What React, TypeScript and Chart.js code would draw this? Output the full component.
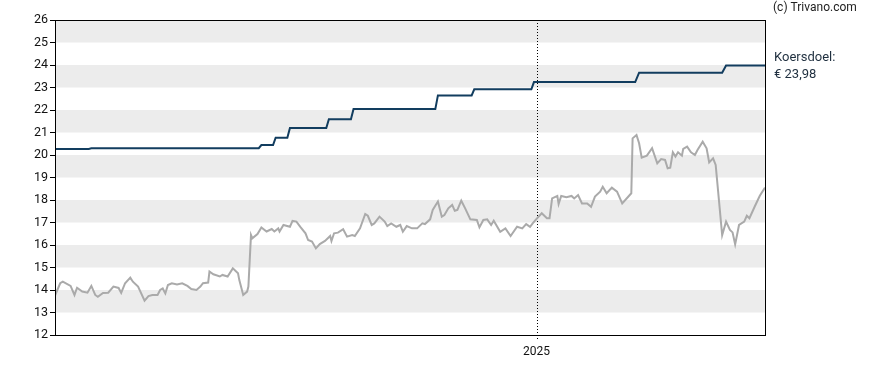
import React, { useEffect, useRef } from "react";
import { Chart, registerables } from "chart.js";

Chart.register(...registerables);

// x values are day offsets from the start of the chart
const xMin = 0;
const xMax = 547;
const yearTickDay = 371;
const yearTickLabel = "2025";
const yTicksMin = 12;
const yTicksMax = 26;

const targetDays = [0, 26, 28, 157, 159, 168, 170, 179, 181, 209, 211, 228, 230, 293, 295, 321, 323, 367, 369, 447, 450, 514, 517, 547];
const targetValues = [20.27, 20.27, 20.3, 20.3, 20.44, 20.44, 20.77, 20.77, 21.2, 21.2, 21.59, 21.59, 22.04, 22.04, 22.65, 22.65, 22.92, 22.92, 23.24, 23.24, 23.66, 23.66, 23.98, 23.98];

const priceDays = [
  0, 4, 6, 12, 15, 17, 21, 25, 28, 31, 33, 37, 41, 45, 49, 51, 54, 58, 60, 64,
  69, 72, 75, 79, 81, 83, 85, 87, 90, 94, 98, 102, 105, 109, 112, 114, 118, 119, 122, 127,
  129, 133, 137, 141, 142, 145, 148, 149, 151, 152, 156, 159, 163, 167, 169, 172, 173, 176, 181, 183,
  186, 189, 193, 195, 198, 201, 204, 208, 212, 213, 215, 218, 222, 225, 229, 231, 235, 239, 241, 244,
  246, 250, 254, 256, 259, 263, 266, 268, 271, 275, 279, 283, 285, 289, 291, 295, 298, 300, 303, 306,
  308, 310, 313, 316, 320, 325, 327, 330, 333, 336, 338, 343, 347, 351, 356, 360, 363, 366, 368, 371,
  375, 379, 381, 383, 387, 388, 390, 394, 398, 400, 403, 406, 410, 413, 416, 420, 422, 425, 429, 433,
  437, 444, 445, 448, 450, 452, 456, 460, 464, 467, 470, 472, 474, 476, 478, 480, 483, 484, 487, 490,
  493, 495, 499, 502, 504, 507, 509, 514, 517, 520, 522, 524, 527, 531, 533, 535, 539, 543, 547,
];
const priceValues = [
  13.75, 14.3, 14.37, 14.18, 13.78, 14.1, 13.93, 13.88, 14.18, 13.78, 13.7, 13.87, 13.88, 14.15, 14.09, 13.87, 14.3, 14.55, 14.37, 14.15,
  13.53, 13.73, 13.78, 13.78, 14.0, 14.07, 13.85, 14.22, 14.3, 14.25, 14.3, 14.18, 14.04, 14.0, 14.15, 14.3, 14.33, 14.82, 14.7, 14.6,
  14.67, 14.6, 14.96, 14.74, 14.44, 13.78, 13.93, 14.15, 16.44, 16.3, 16.49, 16.78, 16.6, 16.71, 16.6, 16.74, 16.6, 16.89, 16.81, 17.07,
  17.04, 16.81, 16.52, 16.22, 16.15, 15.85, 16.04, 16.18, 16.4, 16.18, 16.52, 16.55, 16.7, 16.37, 16.44, 16.4, 16.74, 17.38, 17.3, 16.89,
  16.96, 17.26, 17.04, 16.84, 16.96, 16.81, 16.89, 16.59, 16.84, 16.74, 16.74, 16.96, 16.93, 17.14, 17.56, 17.93, 17.26, 17.33, 17.63, 17.78,
  17.52, 17.56, 17.97, 17.63, 17.14, 17.11, 16.79, 17.11, 17.14, 16.89, 17.08, 16.59, 16.74, 16.4, 16.81, 16.74, 16.93, 16.81, 16.96, 17.16,
  17.41, 17.19, 17.19, 18.07, 18.18, 17.82, 18.18, 18.12, 18.18, 18.07, 18.22, 17.85, 17.85, 17.7, 18.15, 18.37, 18.59, 18.3, 18.55, 18.37,
  17.85, 18.3, 20.74, 20.89, 20.52, 19.88, 19.97, 20.3, 19.63, 19.82, 19.78, 19.41, 19.44, 20.12, 19.93, 20.12, 19.97, 20.27, 20.37, 20.12,
  20.0, 20.22, 20.59, 20.3, 19.67, 19.85, 19.56, 16.44, 17.04, 16.67, 16.56, 16.03, 16.89, 17.04, 17.3, 17.19, 17.7, 18.19, 18.55,
];

const targetLabel = "Koersdoel:";
const targetValueText = "€ 23,98";
const copyright = "(c) Trivano.com";

const FONT = "Roboto, 'DejaVu Sans', sans-serif";

const decorPlugin = {
  id: "decor",
  beforeDatasetsDraw(chart: any) {
    const { ctx, chartArea, scales } = chart;
    const y = scales.y;
    const x = scales.x;
    ctx.save();
    ctx.fillStyle = "#ececec";
    for (let v = yTicksMin + 1; v < yTicksMax; v += 2) {
      const top = y.getPixelForValue(v + 1);
      const bot = y.getPixelForValue(v);
      ctx.fillRect(chartArea.left, top, chartArea.right - chartArea.left, bot - top);
    }
    const px = Math.round(x.getPixelForValue(yearTickDay)) + 0.5;
    ctx.strokeStyle = "#000";
    ctx.lineWidth = 1;
    ctx.setLineDash([1, 2]);
    ctx.beginPath();
    ctx.moveTo(px, chartArea.top);
    ctx.lineTo(px, chartArea.bottom + 5);
    ctx.stroke();
    ctx.restore();
  },
  afterDatasetsDraw(chart: any) {
    const { ctx, chartArea, scales } = chart;
    ctx.save();
    ctx.strokeStyle = "#000";
    ctx.lineWidth = 1;
    ctx.setLineDash([]);
    const l = Math.round(chartArea.left) + 0.5;
    const t = Math.round(chartArea.top) + 0.5;
    const r = Math.round(chartArea.right) + 0.5;
    const b = Math.round(chartArea.bottom) + 0.5;
    ctx.strokeRect(l, t, r - l, b - t);

    ctx.font = `12px ${FONT}`;
    ctx.fillStyle = "#222";
    ctx.textBaseline = "middle";
    ctx.textAlign = "left";
    ctx.fillText(copyright, chartArea.right + 8, 8);

    const last = targetValues[targetValues.length - 1];
    const ly = scales.y.getPixelForValue(last);
    ctx.font = `13px ${FONT}`;
    ctx.fillStyle = "#1f2f3f";
    ctx.fillText(targetLabel, chartArea.right + 9, ly - 8);
    ctx.fillText(targetValueText, chartArea.right + 9, ly + 9);
    ctx.restore();
  },
};

export default function App() {
  const ref = useRef<HTMLCanvasElement>(null);
  useEffect(() => {
    if (!ref.current) return;
    const chart = new Chart(ref.current, {
      type: "line",
      data: {
        datasets: [
          {
            label: "Koersdoel",
            data: targetDays.map((d, i) => ({ x: d, y: targetValues[i] })),
            borderColor: "#123d5f",
            borderWidth: 2,
            pointRadius: 0,
            tension: 0,
          },
          {
            label: "Koers",
            data: priceDays.map((d, i) => ({ x: d, y: priceValues[i] })),
            borderColor: "#aaaaaa",
            borderWidth: 2,
            pointRadius: 0,
            tension: 0,
          },
        ],
      },
      options: {
        responsive: false,
        animation: false,
        layout: { padding: { left: 0, top: 20, right: 123, bottom: 0 } },
        plugins: { legend: { display: false }, tooltip: { enabled: false } },
        scales: {
          x: {
            type: "linear",
            min: xMin,
            max: xMax,
            afterBuildTicks: (s: any) => {
              s.ticks = [{ value: yearTickDay }];
            },
            afterFit: (s: any) => {
              s.height = 35;
            },
            ticks: {
              callback: () => yearTickLabel,
              color: "#111",
              font: { family: FONT, size: 12 },
              padding: 2,
              maxRotation: 0,
              autoSkip: false,
            },
            grid: { display: false },
            border: { display: false },
          },
          y: {
            min: yTicksMin,
            max: yTicksMax,
            afterFit: (s: any) => {
              s.width = 55;
            },
            ticks: {
              stepSize: 1,
              color: "#111",
              font: { family: FONT, size: 12.5 },
              padding: 2,
            },
            grid: {
              display: true,
              drawOnChartArea: false,
              drawTicks: true,
              tickLength: 5,
              color: "#000",
            },
            border: { display: false },
          },
        },
      },
      plugins: [decorPlugin],
    });
    return () => chart.destroy();
  }, []);
  return (
    <canvas
      ref={ref}
      width={888}
      height={370}
      style={{ position: "absolute", left: 0, top: 0, display: "block" }}
    />
  );
}
